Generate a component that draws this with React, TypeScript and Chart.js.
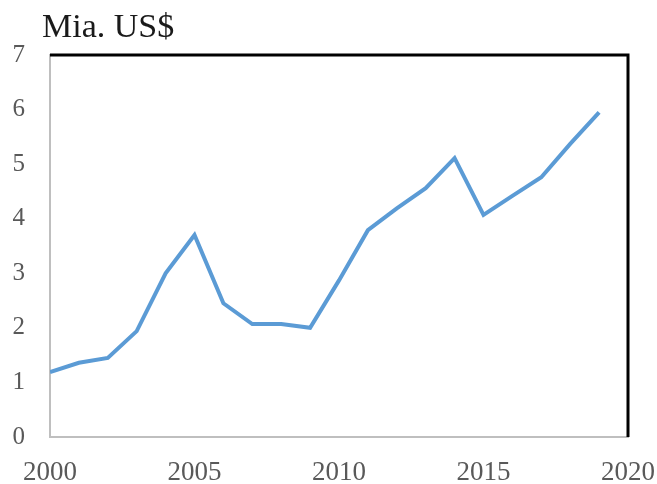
import React, { useEffect, useRef } from "react";
import { Chart, registerables } from "chart.js";

Chart.register(...registerables);

const years = [2000, 2001, 2002, 2003, 2004, 2005, 2006, 2007, 2008, 2009, 2010, 2011, 2012, 2013, 2014, 2015, 2016, 2017, 2018, 2019];
const values = [1.19, 1.36, 1.45, 1.94, 3.0, 3.7, 2.45, 2.07, 2.07, 2.0, 2.87, 3.79, 4.19, 4.56, 5.11, 4.07, 4.42, 4.76, 5.37, 5.95];
const unitLabel = "Mia. US$";
const xMin = 2000;
const xMax = 2020;
const yMin = 0;
const yMax = 7;

const FONT = "'Liberation Serif', 'Times New Roman', serif";

const framePlugin = {
  id: "frameAndTitle",
  afterDraw(chart: any) {
    const { ctx, chartArea } = chart;
    ctx.save();
    ctx.strokeStyle = "#000000";
    ctx.lineWidth = 3;
    ctx.beginPath();
    ctx.moveTo(chartArea.left, chartArea.top);
    ctx.lineTo(chartArea.right, chartArea.top);
    ctx.lineTo(chartArea.right, chartArea.bottom);
    ctx.stroke();
    ctx.fillStyle = "#1a1a1a";
    ctx.font = `34px ${FONT}`;
    ctx.textBaseline = "alphabetic";
    ctx.textAlign = "left";
    ctx.fillText(unitLabel, 42, 37);
    ctx.restore();
  },
};

export default function App() {
  const ref = useRef<HTMLCanvasElement>(null);
  useEffect(() => {
    if (!ref.current) return;
    const chart = new Chart(ref.current, {
      type: "line",
      data: {
        datasets: [
          {
            data: years.map((y, i) => ({ x: y, y: values[i] })),
            borderColor: "#5b9bd5",
            borderWidth: 4,
            pointRadius: 0,
            tension: 0,
            fill: false,
          },
        ],
      },
      options: {
        animation: false,
        responsive: false,
        maintainAspectRatio: false,
        layout: { padding: { top: 55, right: 29, left: 0, bottom: 0 } },
        plugins: { legend: { display: false }, title: { display: false }, tooltip: { enabled: false } },
        scales: {
          x: {
            type: "linear",
            min: xMin,
            max: xMax,
            ticks: {
              stepSize: 5,
              color: "#595959",
              font: { family: FONT, size: 27 },
              padding: 20,
              maxRotation: 0,
              callback: (v: any) => String(v),
            },
            grid: { display: false, drawTicks: false },
            border: { color: "#bfbfbf", width: 2 },
            afterFit: (s: any) => {
              s.height = 47;
              s.paddingLeft = 0;
              s.paddingRight = 0;
            },
          },
          y: {
            min: yMin,
            max: yMax,
            ticks: {
              stepSize: 1,
              color: "#595959",
              font: { family: FONT, size: 25 },
              padding: 25,
            },
            grid: { display: false, drawTicks: false },
            border: { color: "#bfbfbf", width: 2 },
            afterFit: (s: any) => {
              s.width = 50;
              s.paddingTop = 0;
              s.paddingBottom = 0;
            },
          },
        },
      },
      plugins: [framePlugin],
    });
    return () => chart.destroy();
  }, []);
  return (
    <div style={{ position: "fixed", left: 0, top: 0, width: 657, height: 484, background: "#fff" }}>
      <canvas ref={ref} width={657} height={484} style={{ width: 657, height: 484 }} />
    </div>
  );
}
